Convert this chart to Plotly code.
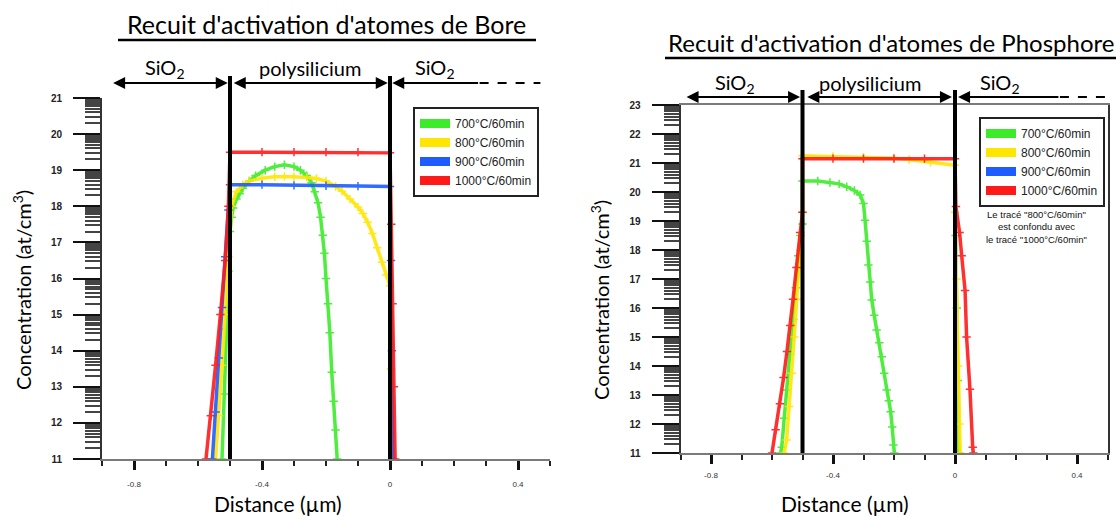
import math
import plotly.graph_objects as go

# ---------------- DATA (x in µm, y = log10 concentration in at/cm3) ----------------
series_names = ["700°C/60min", "800°C/60min", "900°C/60min", "1000°C/60min"]
series_colors = ["#3cec2a", "#ffe600", "#1e5cff", "#ff1a1a"]

# Bore (left chart)
bore_700_x = [-0.525, -0.518, -0.511, -0.505, -0.5, -0.495, -0.49, -0.48, -0.47, -0.46, -0.44, -0.42,
              -0.39, -0.36, -0.33, -0.3, -0.28, -0.26, -0.245, -0.235, -0.225, -0.217, -0.21, -0.205,
              -0.2, -0.194, -0.188, -0.182, -0.176, -0.17, -0.165]
bore_700_y = [11.0, 12.8, 14.6, 16.2, 17.3, 17.7, 17.95, 18.2, 18.35, 18.5, 18.7, 18.85,
              19.0, 19.1, 19.15, 19.1, 19.0, 18.85, 18.65, 18.4, 18.1, 17.7, 17.2, 16.7,
              16.0, 15.3, 14.5, 13.4, 12.6, 11.8, 11.0]

bore_800_x = [-0.545, -0.535, -0.525, -0.515, -0.505, -0.495, -0.48, -0.46, -0.44, -0.4, -0.36, -0.33,
              -0.3, -0.26, -0.23, -0.2, -0.17, -0.15, -0.125, -0.1, -0.085, -0.07, -0.055, -0.04,
              -0.025, -0.012, 0.0, 0.003, 0.006]
bore_800_y = [11.0, 12.2, 13.6, 15.0, 16.6, 18.0, 18.4, 18.6, 18.7, 18.78, 18.82, 18.83,
              18.82, 18.8, 18.77, 18.7, 18.55, 18.42, 18.2, 17.98, 17.8, 17.56, 17.25, 16.85,
              16.45, 16.1, 15.8, 13.5, 11.0]

bore_900_x = [-0.555, -0.545, -0.535, -0.525, -0.515, -0.505, -0.5, -0.4, -0.3, -0.2, -0.1, 0.0,
              0.003, 0.006, 0.009]
bore_900_y = [11.0, 12.3, 13.8, 15.2, 16.6, 17.9, 18.6, 18.6, 18.58, 18.57, 18.56, 18.55,
              16.5, 14.0, 11.0]

bore_1000_x = [-0.575, -0.56, -0.545, -0.53, -0.515, -0.505, -0.5, -0.4, -0.3, -0.2, -0.1, 0.0,
               0.004, 0.008, 0.012, 0.016]
bore_1000_y = [11.0, 12.2, 13.6, 15.0, 16.5, 18.0, 19.5, 19.5, 19.5, 19.5, 19.5, 19.48,
               17.5, 15.3, 13.0, 11.0]

# Phosphore (right chart)
phos_700_x = [-0.572, -0.568, -0.56, -0.552, -0.541, -0.53, -0.522, -0.514, -0.507, -0.5, -0.5,
              -0.45, -0.41, -0.38, -0.355, -0.33, -0.311, -0.3, -0.295, -0.289, -0.284, -0.278,
              -0.273, -0.265, -0.257, -0.248, -0.24, -0.232, -0.224, -0.217, -0.211, -0.206,
              -0.202, -0.199, None, 0.002, 0.006, 0.009, 0.012]
phos_700_y = [11.0, 11.2, 12.2, 13.17, 14.4, 15.6, 16.7, 17.8, 18.5, 18.9, 20.38,
              20.38, 20.33, 20.28, 20.18, 20.05, 19.9, 19.6, 19.03, 18.3, 17.48, 16.9,
              16.28, 15.75, 15.24, 14.8, 14.32, 13.75, 13.17, 12.8, 12.42, 11.9,
              11.28, 11.0, None, 18.5, 16.0, 13.5, 11.0]

phos_800_x = [-0.56, -0.552, -0.544, -0.535, -0.527, -0.519, -0.508, -0.5, -0.5, -0.4, -0.3,
              -0.2, -0.15, -0.08, 0.0, 0.0, 0.005, 0.01, 0.014, 0.017]
phos_800_y = [11.0, 11.45, 12.6, 13.75, 15.0, 16.3, 18.0, 19.3, 21.25, 21.23, 21.2,
              21.16, 21.12, 21.02, 20.92, 19.3, 17.0, 14.0, 12.0, 11.0]

phos_1000_x = [-0.6, -0.588, -0.574, -0.562, -0.551, -0.54, -0.531, -0.52, -0.508, -0.5, -0.5,
               -0.4, -0.3, -0.2, -0.1, 0.0, 0.003, 0.015, 0.022, 0.033, 0.038, 0.049, 0.058, 0.06]
phos_1000_y = [11.0, 11.8, 12.7, 13.6, 14.5, 15.4, 16.3, 17.4, 18.6, 19.3, 21.15,
               21.15, 21.15, 21.15, 21.15, 21.15, 19.5, 18.6, 17.8, 16.6, 15.0, 13.2, 11.2, 11.0]

x_tick_vals = [-0.8, -0.4, 0.0, 0.4]
x_tick_text = ["-0.8", "-0.4", "0", "0.4"]
bore_y_ticks = list(range(11, 22))
phos_y_ticks = list(range(11, 24))

title_bore = "Recuit d'activation d'atomes de Bore"
title_phos = "Recuit d'activation d'atomes de Phosphore"
note_text = "Le tracé \"800°C/60min\"<br>est confondu avec<br>le tracé \"1000°C/60min\""

# ---------------- FIGURE ----------------
W, H = 1120, 516


def px(x):
    return x / W


def py(y):
    return 1 - y / H


fig = go.Figure()

bore = [(bore_700_x, bore_700_y), (bore_800_x, bore_800_y), (bore_900_x, bore_900_y), (bore_1000_x, bore_1000_y)]
phos = [(phos_700_x, phos_700_y), (phos_800_x, phos_800_y), None, (phos_1000_x, phos_1000_y)]

for i, (xs, ys) in enumerate(bore):
    fig.add_trace(go.Scatter(x=xs, y=ys, mode="lines+markers", xaxis="x", yaxis="y",
                             line=dict(color=series_colors[i], width=3.5),
                             marker=dict(symbol="cross-thin-open", size=6,
                                         line=dict(color=series_colors[i], width=1.5)),
                             opacity=0.9, showlegend=False, connectgaps=False))
for i, d in enumerate(phos):
    if d is None:
        continue
    xs, ys = d
    fig.add_trace(go.Scatter(x=xs, y=ys, mode="lines+markers", xaxis="x2", yaxis="y2",
                             line=dict(color=series_colors[i], width=3.5),
                             marker=dict(symbol="cross-thin-open", size=6,
                                         line=dict(color=series_colors[i], width=1.5)),
                             opacity=0.9, showlegend=False, connectgaps=False))

# legend-only entries
for i, nm in enumerate(series_names):
    fig.add_trace(go.Scatter(x=[None], y=[None], mode="lines", name=nm, xaxis="x", yaxis="y",
                             line=dict(color=series_colors[i], width=9), legend="legend"))
for i, nm in enumerate(series_names):
    fig.add_trace(go.Scatter(x=[None], y=[None], mode="lines", name=nm, xaxis="x2", yaxis="y2",
                             line=dict(color=series_colors[i], width=9), legend="legend2"))


def minor_y(lo, hi):
    vals = []
    for n in range(lo, hi):
        for k in range(2, 10):
            vals.append(n + math.log10(k))
    return vals


x_minor = [round(-0.9 + 0.1 * i, 2) for i in range(15) if round(-0.9 + 0.1 * i, 2) not in x_tick_vals]

xaxis_common = dict(range=[-0.9, 0.5], showgrid=False, zeroline=False, showline=True, automargin=False,
                    linecolor="#7a7a7a", linewidth=2, ticks="outside", ticklen=9, tickwidth=3,
                    tickcolor="#111", tickmode="array", tickvals=x_tick_vals, ticktext=x_tick_text,
                    tickfont=dict(family="Liberation Sans", size=8, color="#333"),
                    minor=dict(tickmode="array", tickvals=x_minor, ticks="outside", ticklen=5,
                               tickwidth=1.5, tickcolor="#222", showgrid=False),
                    fixedrange=True)
yaxis_common = dict(showgrid=False, zeroline=False, showline=True, linecolor="#333", linewidth=2,
                    automargin=False,
                    ticks="outside", ticklen=27, tickwidth=2, tickcolor="#111", tickmode="array",
                    tickfont=dict(family="Liberation Sans", size=10, color="#222", weight="bold"),
                    ticklabelstandoff=9, fixedrange=True)

fig.update_layout(
    width=W, height=H, margin=dict(l=0, r=0, t=0, b=0, autoexpand=False),
    paper_bgcolor="white", plot_bgcolor="white",
    xaxis=dict(domain=[px(102), px(550)], anchor="y", ticklabelstandoff=7, **xaxis_common),
    yaxis=dict(domain=[py(459), py(98)], anchor="x", range=[11, 21], tickvals=bore_y_ticks,
               minor=dict(tickmode="array", tickvals=minor_y(11, 21), ticks="outside", ticklen=15,
                          tickwidth=1.5, tickcolor="#444", showgrid=False),
               **yaxis_common),
    xaxis2=dict(domain=[px(680.5), px(1107.5)], anchor="y2", mirror=True, ticklabelstandoff=4,
                **xaxis_common),
    yaxis2=dict(domain=[py(453), py(105)], anchor="x2", range=[11, 23], tickvals=phos_y_ticks,
                mirror=True,
                minor=dict(tickmode="array", tickvals=minor_y(11, 23), ticks="outside", ticklen=15,
                           tickwidth=1.5, tickcolor="#444", showgrid=False),
                **yaxis_common),
    legend=dict(x=px(413), y=py(107), xanchor="left", yanchor="top", bordercolor="#222",
                borderwidth=2, bgcolor="white", tracegroupgap=0, itemwidth=30,
                font=dict(family="Liberation Sans", size=12, color="#222")),
    legend2=dict(x=px(979), y=py(117), xanchor="left", yanchor="top", bordercolor="#222",
                 borderwidth=2, bgcolor="white", tracegroupgap=0, itemwidth=30,
                 font=dict(family="Liberation Sans", size=12, color="#222")),
)

shapes = []
annos = []

# vertical black interface lines
for xv in [-0.5, 0.0]:
    shapes.append(dict(type="line", xref="x", yref="paper", x0=xv, x1=xv, y0=py(459), y1=py(76),
                       line=dict(color="black", width=4)))
    shapes.append(dict(type="line", xref="x2", yref="paper", x0=xv, x1=xv, y0=py(453), y1=py(90),
                       line=dict(color="black", width=4)))

# title underlines
shapes.append(dict(type="line", xref="paper", yref="paper", x0=px(118), x1=px(536), y0=py(40), y1=py(40),
                   line=dict(color="black", width=2.5)))
shapes.append(dict(type="line", xref="paper", yref="paper", x0=px(665), x1=px(1116), y0=py(58), y1=py(58),
                   line=dict(color="black", width=2.5)))

# dashed continuation of the SiO2 arrows
shapes.append(dict(type="line", xref="x", yref="paper", x0=0.28, x1=0.47, y0=py(83), y1=py(83),
                   line=dict(color="black", width=2, dash="dash")))
shapes.append(dict(type="line", xref="x2", yref="paper", x0=0.344, x1=0.525, y0=py(97), y1=py(97),
                   line=dict(color="black", width=2, dash="dash")))


def arrow(xr, x_head, x_tail, yp, both=True):
    return dict(xref=xr, yref="paper", axref=xr, ayref="pixel", x=x_head, ax=x_tail, y=yp, ay=0,
                text="", showarrow=True, arrowhead=2, arrowsize=1.2, arrowwidth=2,
                arrowcolor="black", arrowside="end+start" if both else "end")


annos += [
    arrow("x", -0.507, -0.87, py(83)),
    arrow("x", -0.007, -0.493, py(83)),
    arrow("x", 0.007, 0.28, py(83), both=False),
    arrow("x2", -0.508, -0.885, py(97)),
    arrow("x2", -0.01, -0.489, py(97)),
    arrow("x2", 0.01, 0.344, py(97), both=False),
]


def label(xr, x, y, text, font, **kw):
    d = dict(xref=xr, yref="paper", x=x, y=y, text=text, showarrow=False, font=font,
             xanchor="center", yanchor="middle")
    d.update(kw)
    return d


lab_font = dict(family="Lato", size=20, color="black")
annos += [
    label("x", -0.703, py(68), "SiO<sub>2</sub>", lab_font),
    label("x", -0.25, py(68), "polysilicium", lab_font),
    label("x", 0.14, py(68), "SiO<sub>2</sub>", lab_font),
    label("x2", -0.72, py(83), "SiO<sub>2</sub>", lab_font),
    label("x2", -0.279, py(83), "polysilicium", lab_font),
    label("x2", 0.148, py(83), "SiO<sub>2</sub>", lab_font),
]

annos += [
    label("paper", px(326), py(24), title_bore, dict(family="Lato", size=25, color="black")),
    label("paper", px(891), py(42), title_phos, dict(family="Lato", size=24, color="black")),
]

axis_title_font = dict(family="Lato", size=20, color="black")
annos += [
    label("paper", px(22), py(290), "Concentration (at/cm<sup>3</sup>)", axis_title_font, textangle=-90),
    label("paper", px(600), py(300), "Concentration (at/cm<sup>3</sup>)", axis_title_font, textangle=-90),
    label("paper", px(278), py(503), "Distance (µm)", dict(family="Lato", size=21, color="black")),
    label("paper", px(845), py(503), "Distance (µm)", dict(family="Lato", size=21, color="black")),
]

annos.append(label("paper", px(1036), py(207), note_text,
                   dict(family="Liberation Sans", size=9.5, color="#111"), yanchor="top", align="center"))

fig.update_layout(shapes=shapes, annotations=annos)

fig.write_html("out.html", config={"displayModeBar": False},
               post_script="document.body.style.margin='0px';")
